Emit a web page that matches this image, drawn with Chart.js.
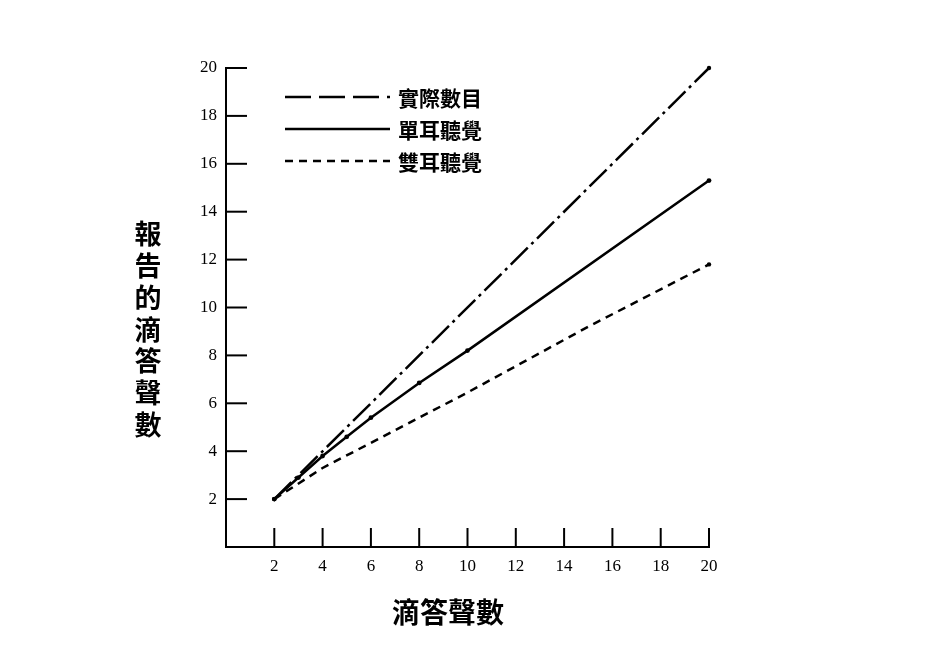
<!DOCTYPE html>
<html>
<head>
<meta charset="utf-8">
<script src="https://cdn.jsdelivr.net/npm/chart.js@4.4.1/dist/chart.umd.min.js"></script>
<style>
  html, body { margin: 0; padding: 0; background: #fff; }
  #wrap { width: 938px; height: 664px; position: relative; }
</style>
</head>
<body>
<div id="wrap"><canvas id="c" width="938" height="664"></canvas></div>
<script>
// ---- data ----
const seriesNames = ['實際數目', '單耳聽覺', '雙耳聽覺'];
const actualX = [2, 20];
const actualY = [2, 20];
const monoX = [2, 3, 4, 5, 6, 8, 10, 20];
const monoY = [2, 2.9, 3.8, 4.6, 5.4, 6.85, 8.2, 15.3];
const binoX = [2, 4, 6, 8, 10, 15, 20];
const binoY = [2, 3.3, 4.35, 5.4, 6.45, 9.2, 11.8];
const xTicks = [2, 4, 6, 8, 10, 12, 14, 16, 18, 20];
const yTicks = [2, 4, 6, 8, 10, 12, 14, 16, 18, 20];
const xTitle = '滴答聲數';
const yTitle = '報告的滴答聲數';

const pts = (xs, ys) => xs.map((x, i) => ({ x: x, y: ys[i] }));

const cjk = '"Noto Sans CJK TC", "Noto Sans CJK SC", sans-serif';

const decor = {
  id: 'decor',
  afterDraw(chart) {
    const ctx = chart.ctx;
    const xs = chart.scales.x, ys = chart.scales.y;
    const x0 = xs.getPixelForValue(0), y0 = ys.getPixelForValue(0);
    ctx.save();
    ctx.strokeStyle = '#000';
    ctx.lineWidth = 2;
    ctx.lineCap = 'butt';
    // inward ticks
    yTicks.forEach(v => {
      const p = ys.getPixelForValue(v);
      ctx.beginPath(); ctx.moveTo(x0, p); ctx.lineTo(x0 + 21, p); ctx.stroke();
    });
    xTicks.forEach(v => {
      const p = xs.getPixelForValue(v);
      ctx.beginPath(); ctx.moveTo(p, y0); ctx.lineTo(p, y0 - 19); ctx.stroke();
    });
    // legend
    const lx1 = 285, lx2 = 390, tx = 398;
    const rows = [97, 129, 161];
    const legendDash = [[26, 8], [], [8, 6]];
    chart.data.datasets.forEach((ds, i) => {
      ctx.save();
      ctx.strokeStyle = '#000';
      ctx.lineWidth = 2.5;
      ctx.setLineDash(legendDash[i]);
      ctx.beginPath(); ctx.moveTo(lx1, rows[i]); ctx.lineTo(lx2, rows[i]); ctx.stroke();
      ctx.restore();
      ctx.fillStyle = '#000';
      ctx.font = 'bold 21px ' + cjk;
      ctx.textBaseline = 'middle';
      ctx.textAlign = 'left';
      ctx.fillText(ds.label, tx, rows[i] + 1);
    });
    // y title, stacked vertically
    ctx.font = 'bold 27px ' + cjk;
    ctx.textAlign = 'center';
    ctx.textBaseline = 'middle';
    const chars = Array.from(yTitle);
    chars.forEach((ch, i) => ctx.fillText(ch, 148, 234 + i * 31.8));
    // x title
    ctx.font = 'bold 28px ' + cjk;
    ctx.fillText(xTitle, 448, 612);
    ctx.restore();
  }
};

new Chart(document.getElementById('c'), {
  type: 'line',
  data: {
    datasets: [
      { label: seriesNames[0], data: pts(actualX, actualY), borderColor: '#000', backgroundColor: '#000',
        borderWidth: 2.5, borderDash: [24, 5, 3, 5], pointRadius: 2.2, pointBorderWidth: 0, tension: 0, clip: false },
      { label: seriesNames[1], data: pts(monoX, monoY), borderColor: '#000', backgroundColor: '#000',
        borderWidth: 2.5, pointRadius: 2.4, pointBorderWidth: 0, tension: 0, clip: false },
      { label: seriesNames[2], data: pts(binoX, binoY), borderColor: '#000', backgroundColor: '#000',
        borderWidth: 2.5, borderDash: [8, 6], pointRadius: [2.2, 0, 0, 0, 0, 0, 2.2], pointBorderWidth: 0, tension: 0, clip: false }
    ]
  },
  options: {
    responsive: false,
    animation: false,
    layout: { padding: { left: 0, top: 68, right: 229, bottom: 0 } },
    plugins: { legend: { display: false }, tooltip: { enabled: false } },
    scales: {
      x: {
        type: 'linear', min: 0, max: 20,
        afterFit: s => { s.height = 117; },
        afterBuildTicks: s => { s.ticks = xTicks.map(v => ({ value: v })); },
        grid: { display: true, drawOnChartArea: false, drawTicks: false },
        border: { display: true, color: '#000', width: 2 },
        ticks: { color: '#000', padding: 9, maxRotation: 0, autoSkip: false,
          font: { family: '"Liberation Serif", "DejaVu Serif", serif', size: 17 } }
      },
      y: {
        type: 'linear', min: 0, max: 20,
        afterFit: s => { s.width = 226; },
        afterBuildTicks: s => { s.ticks = yTicks.map(v => ({ value: v })); },
        grid: { display: true, drawOnChartArea: false, drawTicks: false },
        border: { display: true, color: '#000', width: 2 },
        ticks: { color: '#000', padding: 9, autoSkip: false,
          font: { family: '"Liberation Serif", "DejaVu Serif", serif', size: 17 } }
      }
    }
  },
  plugins: [decor]
});
</script>
</body>
</html>
